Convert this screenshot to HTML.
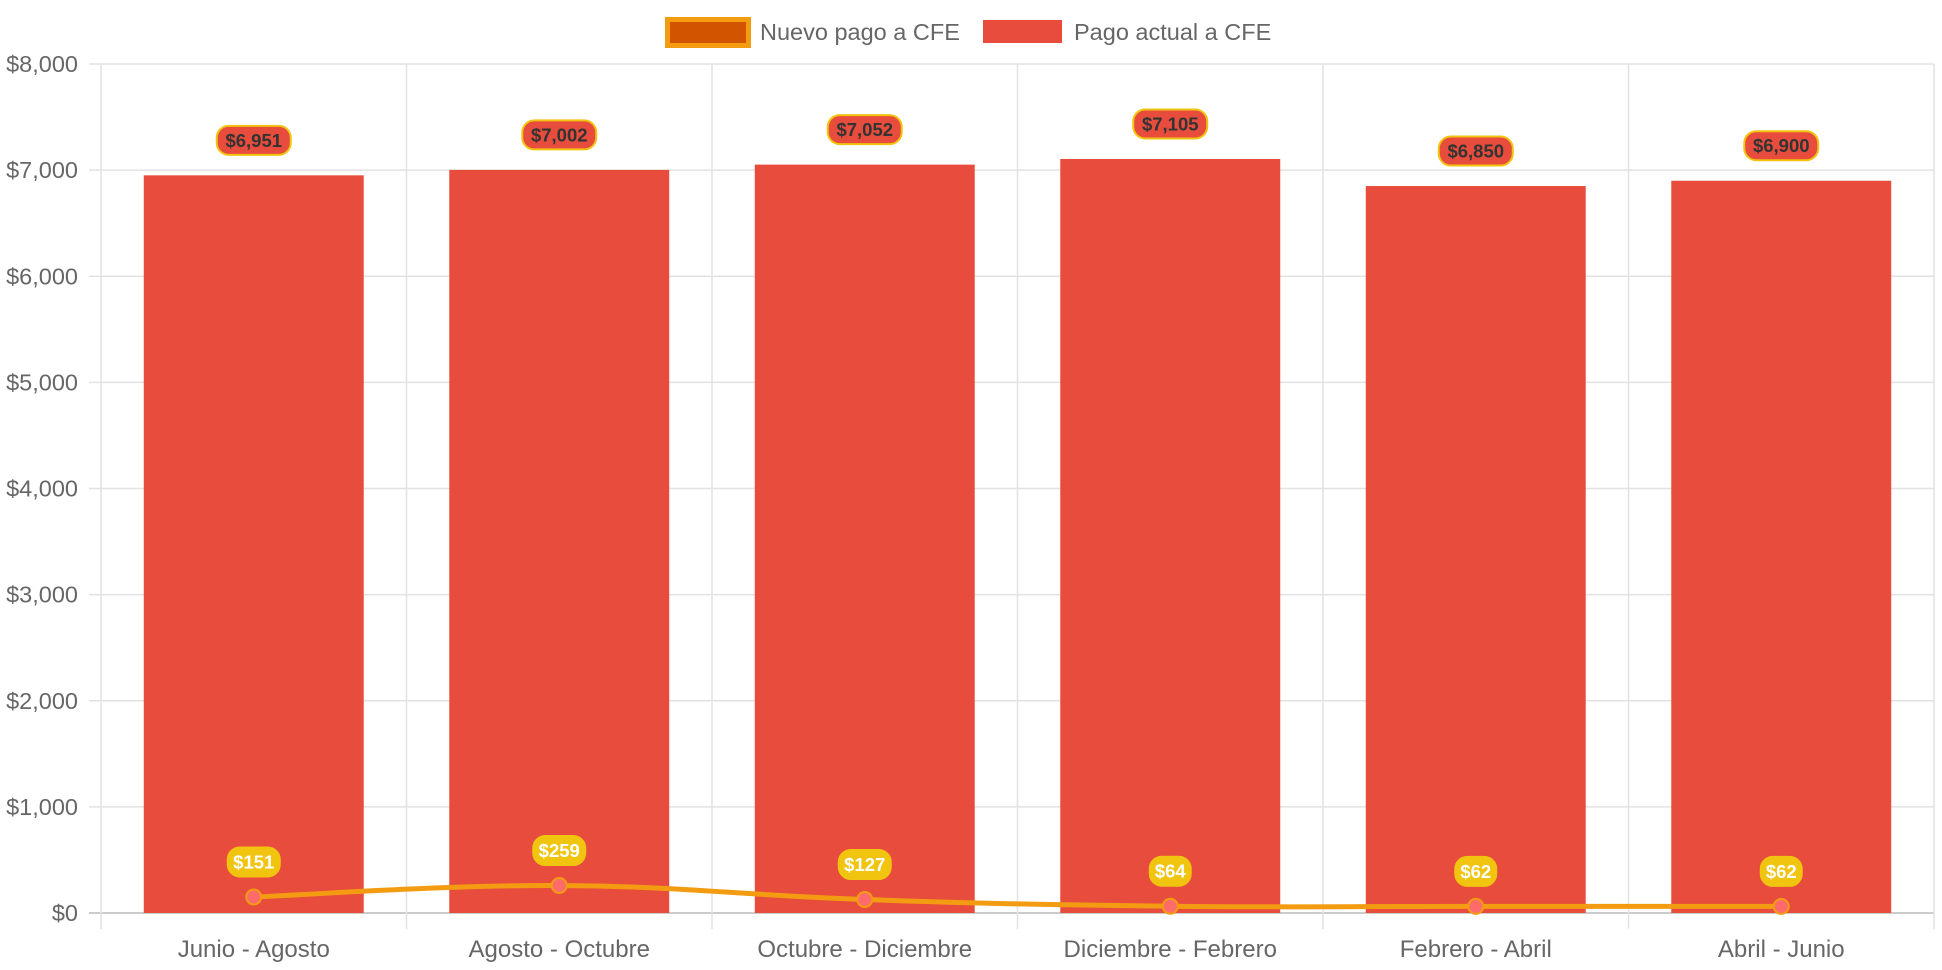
<!DOCTYPE html>
<html><head><meta charset="utf-8"><style>
html,body{margin:0;padding:0;background:#fff;}
svg{display:block;font-family:"Liberation Sans",Arial,sans-serif;}
</style></head><body>
<svg id="chart" width="1942" height="970" xmlns="http://www.w3.org/2000/svg">
  <g>
    <g>
      <rect x="667.5" y="19.5" width="81" height="26" fill="#d35400" stroke="#f39c12" stroke-width="5"/>
      <text x="760" y="40" font-size="23.5" fill="#666">Nuevo pago a CFE</text>
    </g>
    <g>
      <rect x="983" y="20" width="79" height="23" fill="#e74c3c"/>
      <text x="1074" y="40" font-size="23.5" fill="#666">Pago actual a CFE</text>
    </g>
  </g>
  <g id="grid"></g>
  <g id="bars"></g>
  <g id="line"></g>
  <g id="labels"></g>
</svg>
<script>
const categories = ["Junio - Agosto","Agosto - Octubre","Octubre - Diciembre","Diciembre - Febrero","Febrero - Abril","Abril - Junio"];
const pagoActual = [6951, 7002, 7052, 7105, 6850, 6900];
const nuevoPago = [151, 259, 127, 64, 62, 62];
const yTicks = [0,1000,2000,3000,4000,5000,6000,7000,8000];

const NS = "http://www.w3.org/2000/svg";
const L = 101, R = 1934, T = 64, B = 913, YMAX = 8000;
const slot = (R - L) / categories.length;
const xC = i => L + slot * (i + 0.5);
const y = v => B - v / YMAX * (B - T);
const fmt = v => "$" + v.toLocaleString("en-US");
function mk(tag, attrs, parent) {
  const e = document.createElementNS(NS, tag);
  for (const k in attrs) e.setAttribute(k, attrs[k]);
  parent.appendChild(e);
  return e;
}
const grid = document.getElementById("grid");
yTicks.forEach(t => {
  const ln = mk("line", {x1: L - 12, x2: R, y1: y(t), y2: y(t), stroke: t === 0 ? "#ccc" : "#e2e2e2", "stroke-width": t === 0 ? 2 : 1.5}, grid);
  
  
  const tx = mk("text", {x: 78, y: y(t) + 8, "text-anchor": "end", "font-size": 23.5, fill: "#666"}, grid);
  tx.textContent = fmt(t);
  
  
});
for (let i = 0; i <= categories.length; i++) {
  const gx = L + slot * i;
  const ln = mk("line", {x1: gx, x2: gx, y1: T, y2: B + 16, stroke: "#e2e2e2", "stroke-width": 1.5}, grid);
  
  
}
categories.forEach((c, i) => {
  const tx = mk("text", {x: xC(i), y: 957, "text-anchor": "middle", "font-size": 24, fill: "#666"}, grid);
  tx.textContent = c;
  
  
});
const bars = document.getElementById("bars");
const bw = slot * 0.72;
pagoActual.forEach((v, i) => {
  const r = mk("rect", {x: xC(i) - bw / 2, y: y(v), width: bw, height: B - y(v), fill: "#e74c3c"}, bars);
  
  
});
const line = document.getElementById("line");
const pts = nuevoPago.map((v, i) => [xC(i), y(v)]);
let d = "M" + pts[0][0] + "," + pts[0][1];
for (let i = 0; i < pts.length - 1; i++) {
  const p0 = pts[Math.max(0, i - 1)], p1 = pts[i], p2 = pts[i + 1], p3 = pts[Math.min(pts.length - 1, i + 2)];
  const k = 0.2;
  const c1 = [p1[0] + (p2[0] - p0[0]) * k, p1[1] + (p2[1] - p0[1]) * k];
  const c2 = [p2[0] - (p3[0] - p1[0]) * k, p2[1] - (p3[1] - p1[1]) * k];
  d += " C" + c1 + " " + c2 + " " + p2;
}
const path = mk("path", {d: d, fill: "none", stroke: "#f39c12", "stroke-width": 5}, line);


pts.forEach(p => {
  const c = mk("circle", {cx: p[0], cy: p[1], r: 7.5, fill: "#ff6b6b", stroke: "#f39c12", "stroke-width": 2}, line);
  
  
});
const labels = document.getElementById("labels");
function label(cx, cy, txt, fill, stroke, color, name) {
  const w = txt.length * 11 + 8, h = 29;
  const g = mk("g", {}, labels);
  
  
  mk("rect", {x: cx - w / 2, y: cy - h / 2, width: w, height: h, rx: 12, fill: fill, stroke: stroke, "stroke-width": 2}, g);
  const t = mk("text", {x: cx, y: cy + 6.5, "text-anchor": "middle", "font-size": 18.5, "font-weight": "bold", fill: color}, g);
  t.textContent = txt;
}
pagoActual.forEach((v, i) => label(xC(i), y(v) - 35, fmt(v), "#e74c3c", "#f1c40f", "#333", "bar-value-label"));
nuevoPago.forEach((v, i) => label(xC(i), y(v) - 35, fmt(v), "#f1c40f", "#f1c40f", "#fff", "line-value-label"));
</script>
</body></html>
